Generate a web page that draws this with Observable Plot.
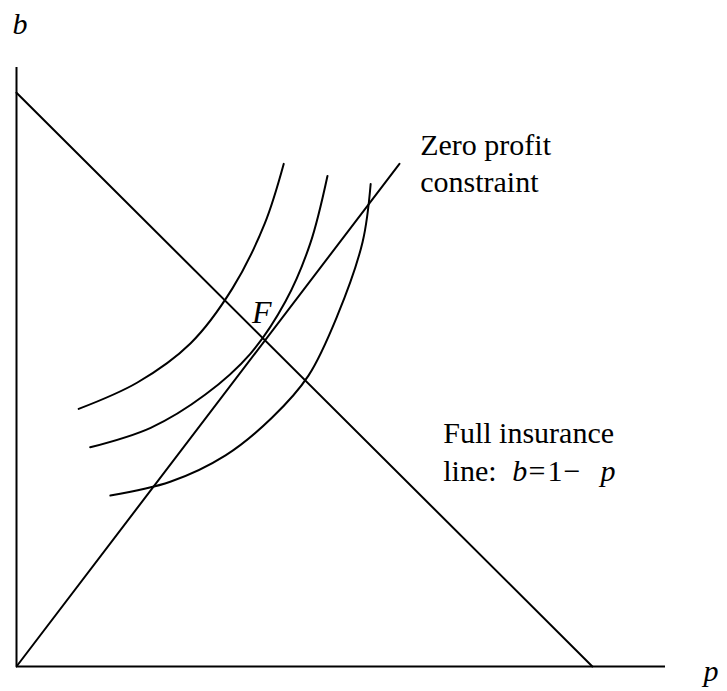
<!DOCTYPE html>
<html>
<head>
<meta charset="utf-8">
<script src="https://cdn.jsdelivr.net/npm/d3@7"></script>
<script src="https://cdn.jsdelivr.net/npm/@observablehq/plot@0.6"></script>
<style>
  html, body { margin: 0; padding: 0; background: #fff; }
</style>
</head>
<body>
<div id="chart"></div>
<script>
// Indifference curves (p, b)
const curve1 = [[0.108,0.449],[0.210,0.495],[0.302,0.563],[0.375,0.659],[0.431,0.772],[0.464,0.876]];
const curve2 = [[0.128,0.382],[0.233,0.416],[0.328,0.474],[0.406,0.545],[0.467,0.636],[0.510,0.737],[0.540,0.855]];
const curve3 = [[0.163,0.298],[0.267,0.322],[0.363,0.368],[0.444,0.434],[0.507,0.507],[0.557,0.611],[0.601,0.740],[0.615,0.841]];
// Straight lines
const fullInsurance = [[0,1],[1,0]];
const zeroProfit = [[0,0],[0.665,0.876]];
// Axis extents
const pMax = 1.127;
const bMax = 1.044;
// Text labels
const zeroProfitLabel = "Zero profit\nconstraint";
const fullInsLabel = "Full insurance";
const lineLabel = "line:";
const eqRoman = [{t: "=", p: 0.889}, {t: "1", p: 0.922}, {t: "\u2212", p: 0.950}];
const eqItalic = [{t: "b", p: 0.861}, {t: "p", p: 1.014}];

const FS = 30;
const SERIF = "'Liberation Serif', 'Times New Roman', serif";
const base = {textAnchor: "start", lineAnchor: "bottom", fontSize: FS, fill: "black", fontFamily: SERIF, stroke: null};
const chart = Plot.plot({
  width: 727,
  height: 691,
  marginLeft: 16,
  marginRight: 62,
  marginTop: 67,
  marginBottom: 25,
  x: {domain: [0, pMax], axis: null},
  y: {domain: [0, bMax], axis: null},
  marks: [
    Plot.ruleX([0], {y1: 0, y2: bMax, stroke: "black", strokeWidth: 2}),
    Plot.ruleY([0], {x1: 0, x2: pMax, stroke: "black", strokeWidth: 2}),
    Plot.line(fullInsurance, {x: d => d[0], y: d => d[1], stroke: "black", strokeWidth: 2}),
    Plot.line(zeroProfit, {x: d => d[0], y: d => d[1], stroke: "black", strokeWidth: 2}),
    Plot.line(curve1, {x: d => d[0], y: d => d[1], stroke: "black", strokeWidth: 2, curve: "catmull-rom"}),
    Plot.line(curve2, {x: d => d[0], y: d => d[1], stroke: "black", strokeWidth: 2, curve: "catmull-rom"}),
    Plot.line(curve3, {x: d => d[0], y: d => d[1], stroke: "black", strokeWidth: 2, curve: "catmull-rom"}),
    Plot.text([zeroProfitLabel], {...base, x: 0.701, y: 0.8275, text: d => d, lineHeight: 1.22}),
    Plot.text([fullInsLabel], {...base, x: 0.741, y: 0.389, text: d => d}),
    Plot.text([lineLabel], {...base, x: 0.741, y: 0.324, text: d => d}),
    Plot.text(eqRoman, {...base, x: "p", y: 0.324, text: "t"}),
    Plot.text(eqItalic, {...base, x: "p", y: 0.324, text: "t", fontStyle: "italic"}),
    Plot.text(["F"], {...base, x: 0.409, y: 0.598, text: d => d, fontSize: 32, fontStyle: "italic"}),
    Plot.text(["p"], {...base, x: 1.193, y: -0.026, text: d => d, fontStyle: "italic"}),
    Plot.text(["b"], {...base, x: -0.007, y: 1.103, text: d => d, fontStyle: "italic"})
  ]
});
document.getElementById("chart").appendChild(chart);
</script>
</body>
</html>
